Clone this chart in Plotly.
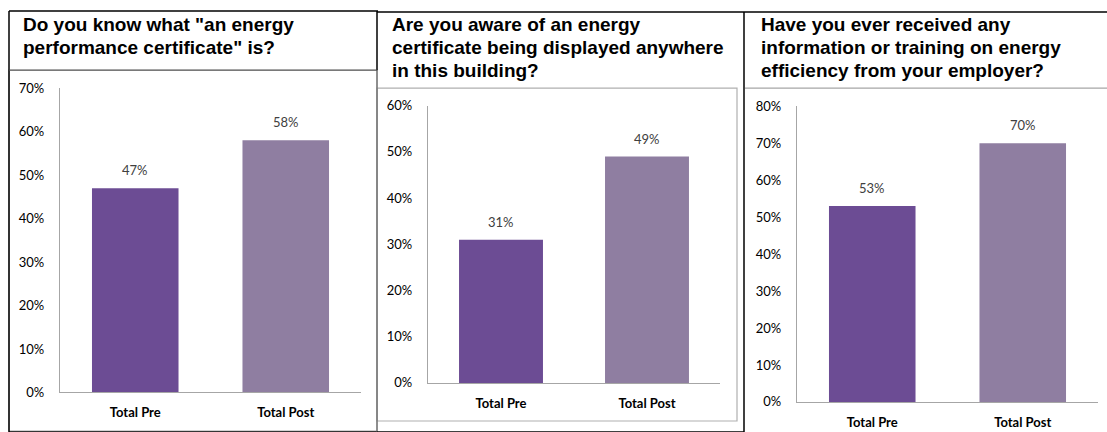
import plotly.graph_objects as go

W, H = 1107, 448

categories = ["Total Pre", "Total Post"]
title_lines = [
    ['Do you know what "an energy', 'performance certificate" is?'],
    ['Are you aware of an energy', 'certificate being displayed anywhere', 'in this building?'],
    ['Have you ever received any', 'information or training on energy', 'efficiency from your employer?'],
]
values_q1 = [0.47, 0.58]
values_q2 = [0.31, 0.49]
values_q3 = [0.53, 0.70]
y_max = [0.70, 0.60, 0.80]
bar_colors = ["#6c4c94", "#8f7ea1"]

series = [values_q1, values_q2, values_q3]

# the photographed page is squeezed slightly in height; map target pixel rows
SY, OY = 0.962, 8.0

def px_x(p):
    return p / W

def px_y(p):
    return 1 - ((p - OY) / SY) / H

# axis geometry in target pixels: (x0, x1, y_bottom, y_top)
geo = [(60, 361, 391.5, 88), (428, 720, 382, 105.5), (797, 1098, 401, 106)]
title_x = [21, 390, 759]
title_top = 24.5
title_step = 22.7

fig = go.Figure()
layout_axes = {}
annotations = []
for i, (vals, ymx, g) in enumerate(zip(series, y_max, geo)):
    n = "" if i == 0 else str(i + 1)
    fig.add_trace(go.Bar(
        x=categories, y=vals, xaxis="x" + n, yaxis="y" + n,
        marker=dict(color=bar_colors, line=dict(width=0)),
        width=0.575, showlegend=False,
        hovertemplate="%{x}: %{y:.0%}<extra></extra>",
    ))
    for c, v in zip(categories, vals):
        annotations.append(dict(
            xref="x" + n, yref="y" + n, x=c, y=v, text=f"{round(v * 100)}%",
            showarrow=False, yanchor="bottom", yshift=8,
            font=dict(family="Lato", size=13, color="#404040"),
        ))
    x0, x1, yb, yt = g
    layout_axes["xaxis" + n] = dict(
        domain=[px_x(x0), px_x(x1)], anchor="y" + n,
        showline=True, linecolor="#a6a6a6", linewidth=1.3,
        showgrid=False, zeroline=False,
        ticks="outside", ticklen=8, tickcolor="rgba(0,0,0,0)",
        tickfont=dict(family="Lato", size=13, color="#000000", weight="bold"),
        fixedrange=True,
    )
    layout_axes["yaxis" + n] = dict(
        domain=[px_y(yb), px_y(yt)], anchor="x" + n,
        range=[0, ymx], dtick=0.1, tickformat=".0%",
        showline=True, linecolor="#a6a6a6", linewidth=1.3,
        showgrid=False, zeroline=False,
        ticks="outside", ticklen=12, tickcolor="rgba(0,0,0,0)",
        tickfont=dict(family="Lato", size=13, color="#000000"),
        fixedrange=True,
    )

for lines, tx in zip(title_lines, title_x):
    for k, t in enumerate(lines):
        annotations.append(dict(
            text="<b>" + t + "</b>", xref="paper", yref="paper",
            x=px_x(tx), y=px_y(title_top + k * title_step),
            xanchor="left", yanchor="middle", align="left",
            showarrow=False, font=dict(family="Liberation Sans", size=19, color="#000000"),
        ))

def line(xa, ya, xb, yb, color="#000000", w=1.5):
    return dict(type="line", xref="paper", yref="paper",
                x0=px_x(xa), y0=px_y(ya), x1=px_x(xb), y1=px_y(yb),
                line=dict(color=color, width=w))

def rect(xa, ya, xb, yb, color, w=1):
    return dict(type="rect", xref="paper", yref="paper",
                x0=px_x(xa), y0=px_y(ya), x1=px_x(xb), y1=px_y(yb),
                line=dict(color=color, width=w), fillcolor="rgba(0,0,0,0)")

shapes = [
    # panel 1
    rect(9, 70, 377, 430, "#a6a6a6", 1.2),
    line(9, 11, 378, 11),
    line(9, 11, 9, 431),
    line(377, 11, 377, 70),
    line(9, 70, 377, 70, "#555555", 1),
    line(9, 431, 377, 431),
    # panel 2
    rect(377, 88, 737, 420, "#b0b0b0", 1.2),
    line(377, 12, 1107, 12),
    line(377, 70, 377, 431, "#555555", 1),
    line(377, 431, 744, 431),
    line(744, 12, 744, 431),
    # panel 3
    line(745, 88, 1107, 88, "#a6a6a6", 1.2),
]

fig.update_layout(
    width=W, height=H, margin=dict(l=0, r=0, t=0, b=0),
    paper_bgcolor="#ffffff", plot_bgcolor="rgba(0,0,0,0)",
    annotations=annotations, shapes=shapes,
    **layout_axes,
)

fig.write_html("out.html", config={"displayModeBar": False})
